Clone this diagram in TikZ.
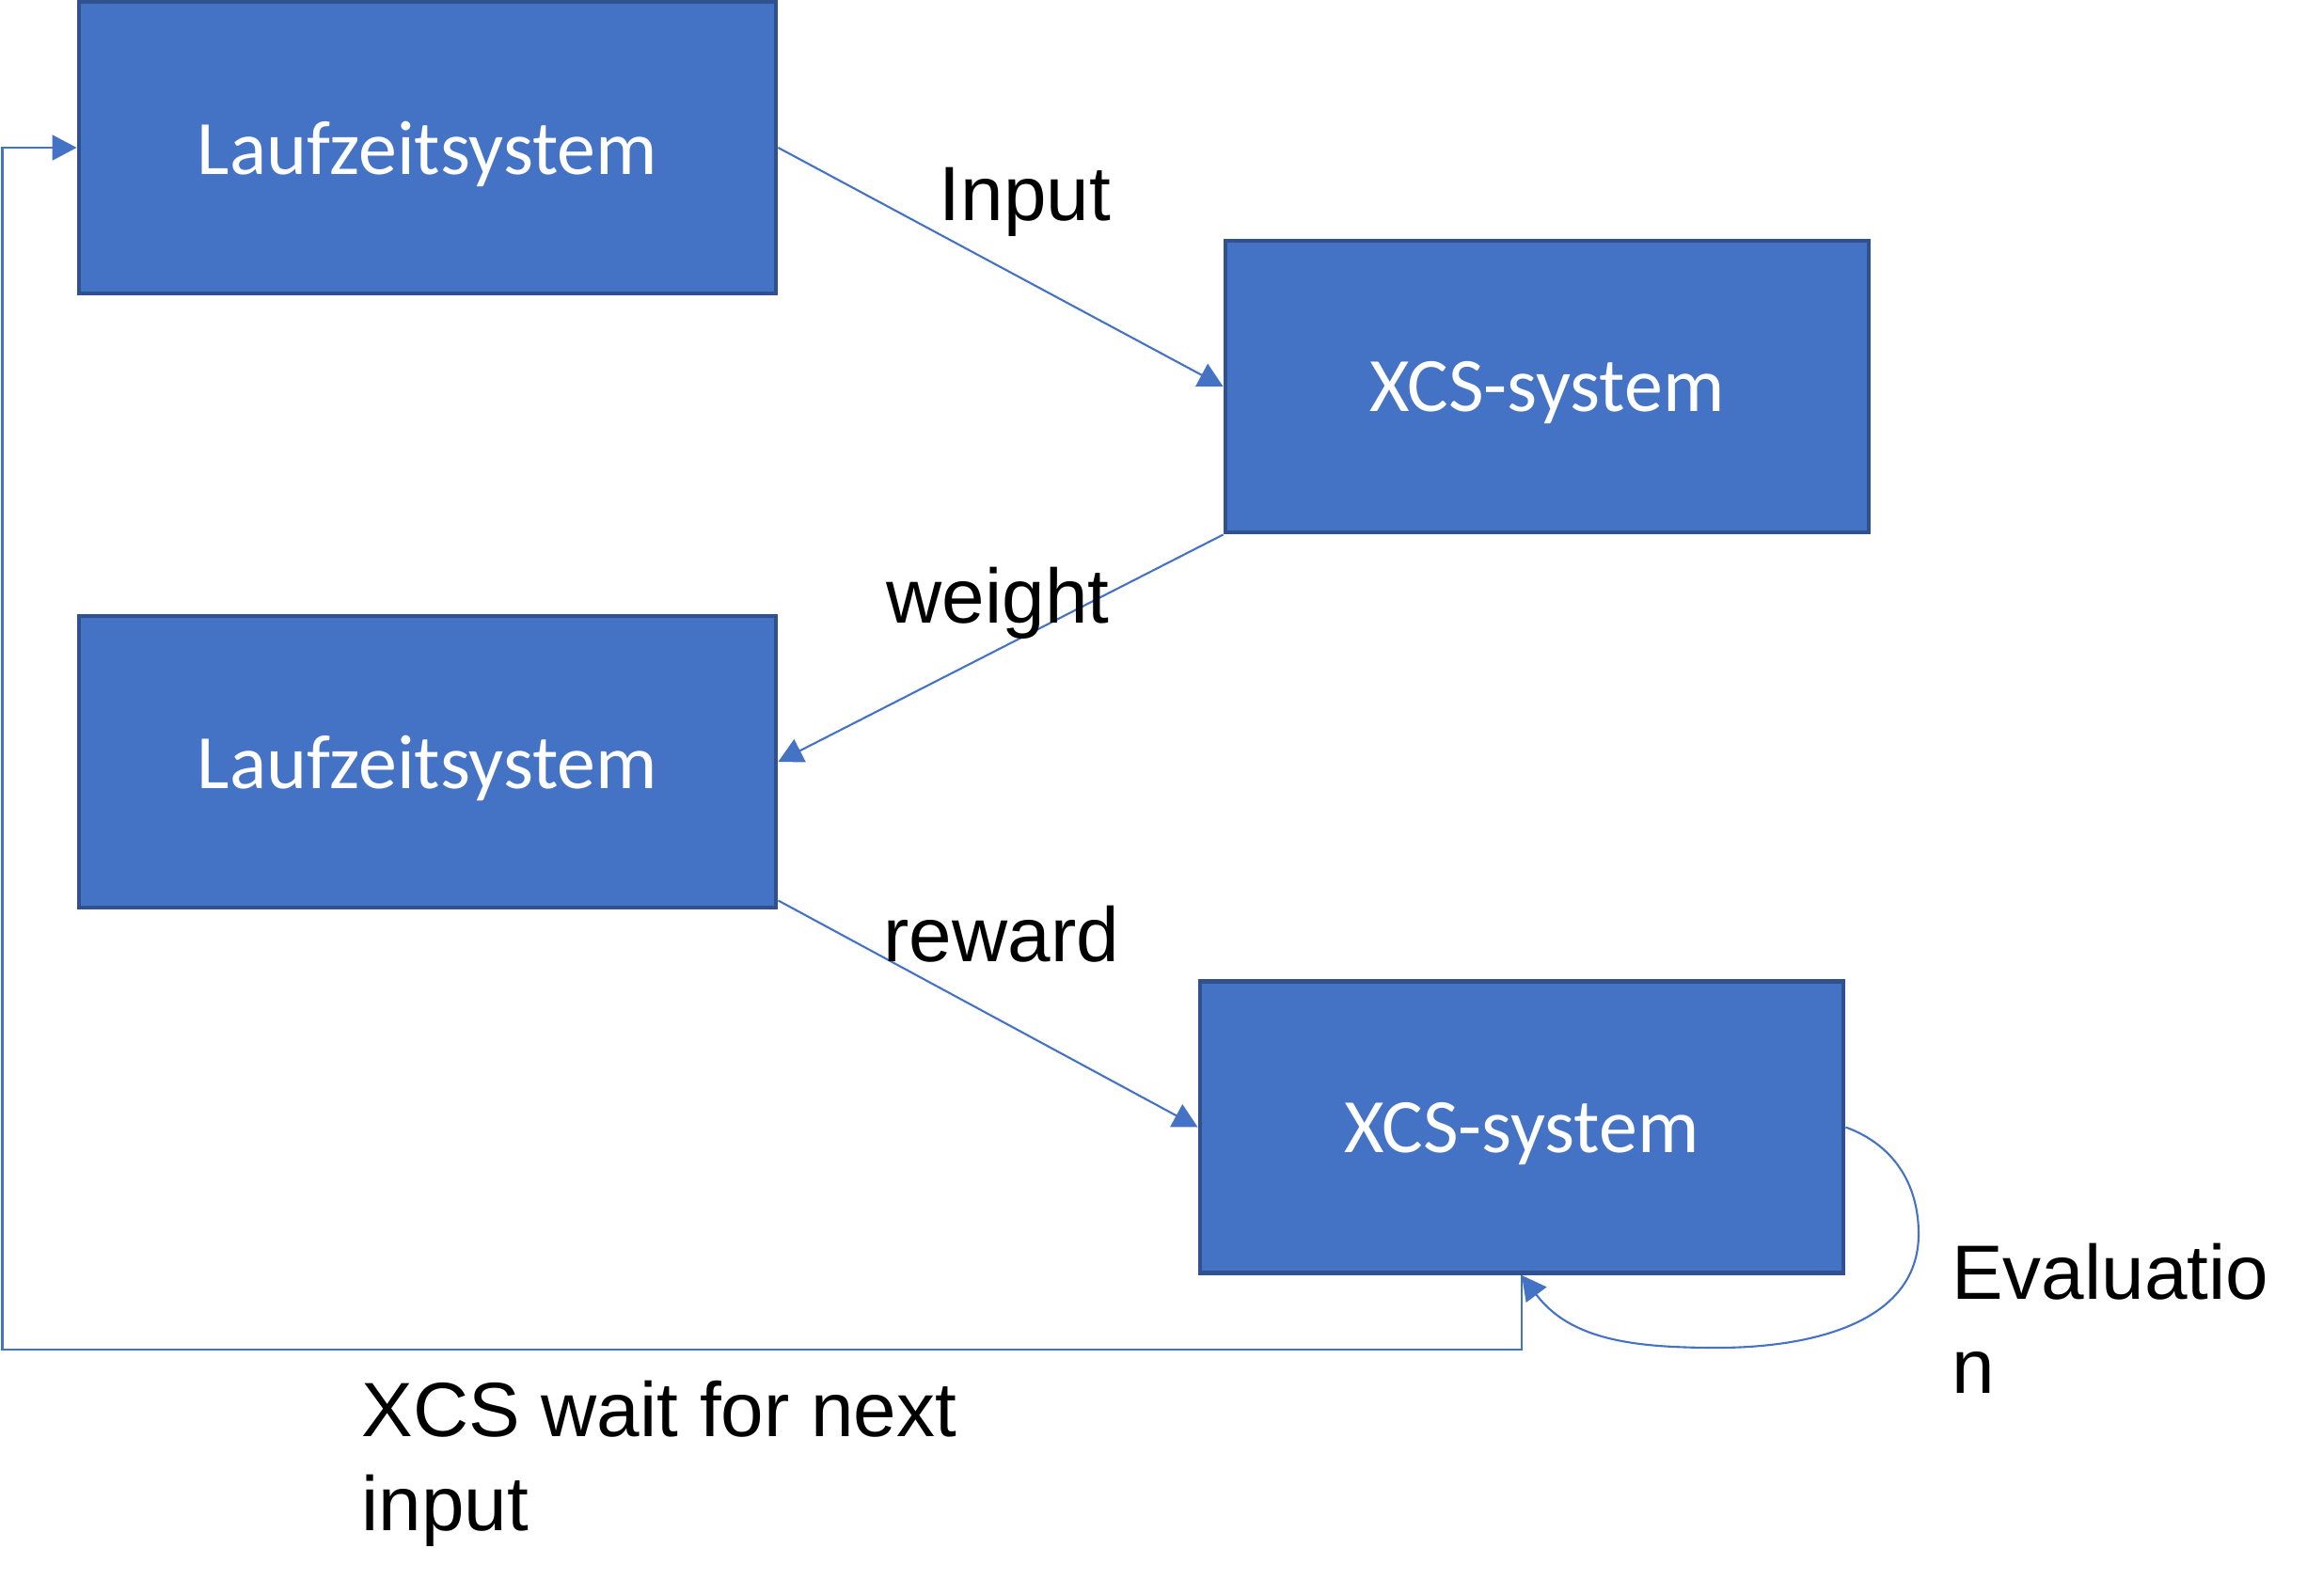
\documentclass[tikz,border=0pt]{standalone}
\usepackage{fontspec}
\setmainfont{Liberation Sans}
\newfontfamily\boxfont{Carlito}
\usepackage{tikz}
\usetikzlibrary{arrows.meta}
\definecolor{boxblue}{HTML}{4472C4}
\definecolor{boxedge}{HTML}{2F528F}

\begin{document}
\begin{tikzpicture}[
  sysbox/.style={draw=boxedge, fill=boxblue, line width=1.4pt, minimum height=3.1cm, text depth=0pt, text=white, font=\boxfont\fontsize{23.3}{28}\selectfont},
  conn/.style={draw=boxblue, line width=0.6pt, -{Triangle[length=0.26cm,width=0.27cm]}},
  lbl/.style={inner sep=0pt, anchor=base west, align=left, font=\fontsize{23.3}{28.2}\selectfont}
]
\useasboundingbox (0,0) rectangle (24.70,-16.96);

% Systems
\node[sysbox, minimum width=7.41cm] (lz1) at (4.545,-1.57) {Laufzeitsystem};
\node[sysbox, minimum width=6.84cm] (xcs1) at (16.45,-4.11) {XCS-system};
\node[sysbox, minimum width=7.41cm] (lz2) at (4.545,-8.10) {Laufzeitsystem};
\node[sysbox, minimum width=6.84cm] (xcs2) at (16.18,-11.985) {XCS-system};

% Flow between systems
\draw[conn] (lz1.east) -- (xcs1.west);
\draw[conn] (xcs1.south west) -- (lz2.east);
\draw[conn] ([yshift=0.1cm]lz2.south east) -- (xcs2.west);

% Evaluation loop
\coordinate (evalR) at (20.40,-13.12);
\coordinate (evalB) at (18.26,-14.33);
\draw[conn] (xcs2.east) to[out=-20,in=90] (evalR) to[out=-90,in=0] (evalB) to[out=180,in=-53] (xcs2.south);

% Back to the start
\coordinate (loopbot) at (0.025,-14.35);
\draw[conn] (xcs2.south) -- (xcs2.south |- loopbot) -- (loopbot) |- (lz1.west);

% Labels (multi-line: base is the last line)
\node[lbl] (inputlbl) at (9.98,-2.34) {Input};
\node[lbl] (weightlbl) at (9.42,-6.62) {weight};
\node[lbl] (rewardlbl) at (9.39,-10.22) {reward};
\node[lbl] (evallbl) at (20.745,-14.81) {Evaluatio\\n};
\node[lbl] (waitlbl) at (3.84,-16.27) {XCS wait for next\\input};
\end{tikzpicture}
\end{document}
